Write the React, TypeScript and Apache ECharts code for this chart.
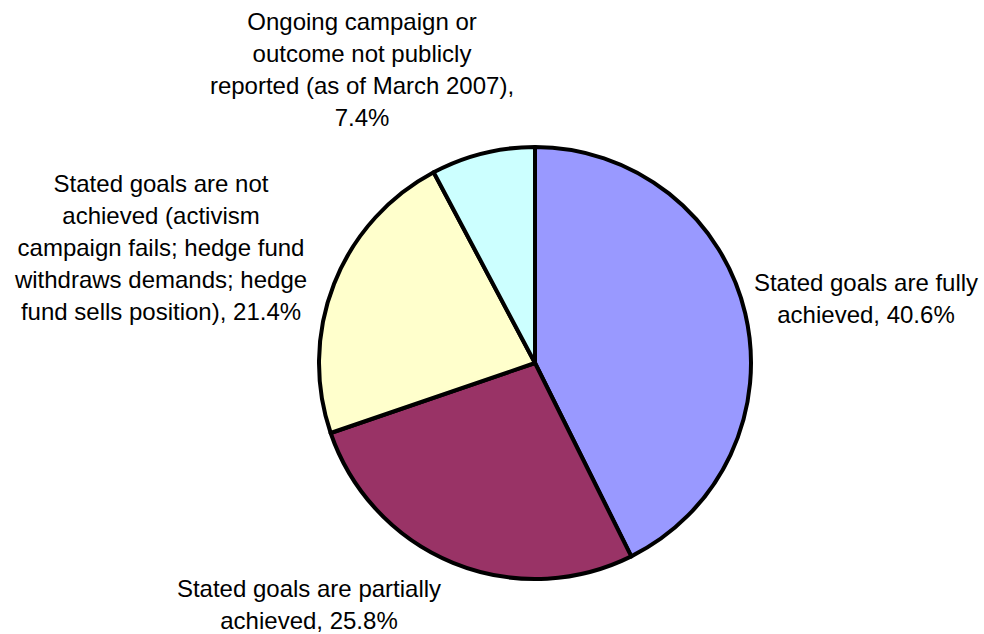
import React, { useEffect, useRef } from "react";
import * as echarts from "echarts";

const categories = [
  "Stated goals are fully\nachieved",
  "Stated goals are partially\nachieved",
  "Stated goals are not\nachieved (activism\ncampaign fails; hedge fund\nwithdraws demands; hedge\nfund sells position)",
  "Ongoing campaign or\noutcome not publicly\nreported (as of March 2007)",
];
const values = [40.6, 25.8, 21.4, 7.4];
const valueLabels = ["40.6%", "25.8%", "21.4%", "7.4%"];
const separators = [", ", ", ", ", ", ",\n"];
const colors = ["#9999FF", "#993366", "#FFFFCC", "#CCFFFF"];
const labelPos = [
  [866, 298],
  [309, 604],
  [161, 247],
  [362, 69],
];

export default function App() {
  const ref = useRef<HTMLDivElement>(null);
  useEffect(() => {
    if (!ref.current) return;
    const chart = echarts.init(ref.current, undefined, { renderer: "svg" });
    chart.setOption({
      animation: false,
      backgroundColor: "#ffffff",
      series: [
        {
          type: "pie",
          center: [535, 363],
          radius: 216,
          startAngle: 90,
          clockwise: true,
          avoidLabelOverlap: false,
          data: values.map((v, i) => ({
            value: v,
            name: categories[i],
            itemStyle: { color: colors[i] },
          })),
          itemStyle: { borderColor: "#000000", borderWidth: 4, borderJoin: "round" },
          label: {
            show: true,
            position: "outside",
            color: "#000000",
            fontFamily: "Liberation Sans, Arial, sans-serif",
            fontSize: 24,
            lineHeight: 32,
            align: "center",
            formatter: (p: any) =>
              categories[p.dataIndex] + separators[p.dataIndex] + valueLabels[p.dataIndex],
          },
          labelLine: { show: false },
          labelLayout: (p: any) => ({
            x: labelPos[p.dataIndex][0],
            y: labelPos[p.dataIndex][1],
            align: "center",
            verticalAlign: "middle",
          }),
          emphasis: { disabled: true },
        },
      ],
    });
    return () => chart.dispose();
  }, []);
  return (
    <div
      ref={ref}
      style={{ position: "absolute", left: 0, top: 0, width: 984, height: 634 }}
    />
  );
}
